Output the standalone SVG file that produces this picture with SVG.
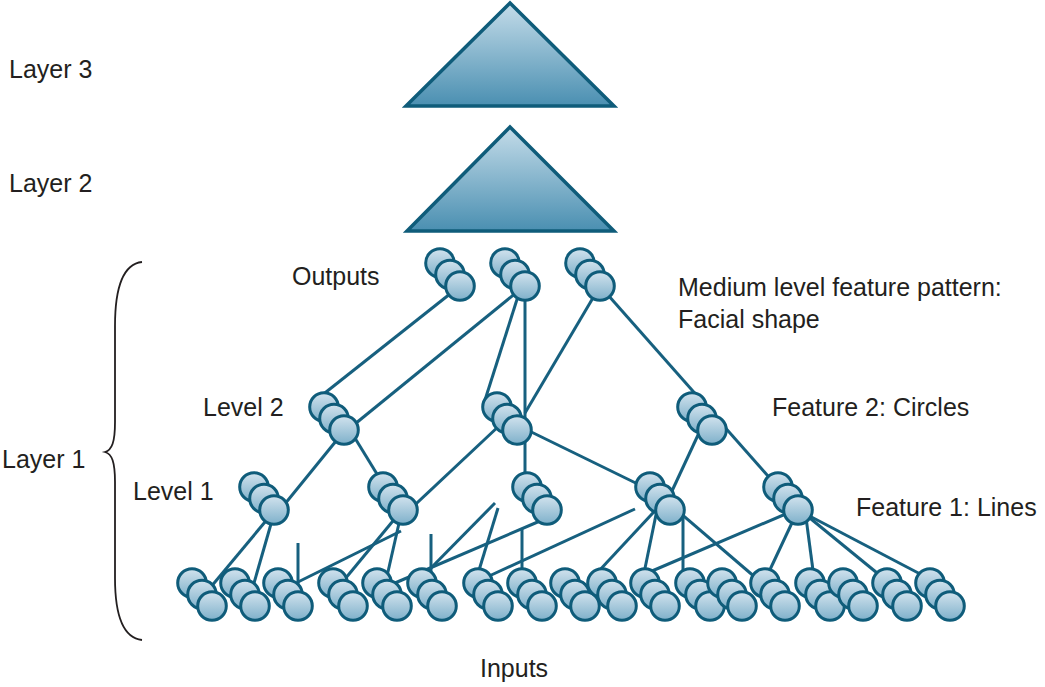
<svg xmlns="http://www.w3.org/2000/svg" xmlns:xlink="http://www.w3.org/1999/xlink" width="1045" height="687" viewBox="0 0 1045 687">
<style>
.t{font-family:"Liberation Sans",Arial,sans-serif;font-size:25px;fill:#231f20}
.c{stroke:#0f5c7a;stroke-width:3;fill:url(#cg)}
.tri{stroke:#0f5c7a;stroke-width:3.5;fill:url(#tg);stroke-linejoin:miter}
#connectors line{stroke:#17607f;stroke-width:3;fill:none;stroke-linecap:butt}
</style>
<defs>
<linearGradient id="cg" x1="0" y1="0" x2="0" y2="1">
<stop offset="0" stop-color="#d2e3ee"/>
<stop offset="1" stop-color="#7eb0ca"/>
</linearGradient>
<linearGradient id="tg" x1="0" y1="0" x2="0" y2="1">
<stop offset="0" stop-color="#c4dce9"/>
<stop offset="1" stop-color="#4a8fb1"/>
</linearGradient>
<g id="n3">
<circle class="c" cx="0" cy="0" r="14.3"/>
<circle class="c" cx="10" cy="11.5" r="14.3"/>
<circle class="c" cx="20" cy="23" r="14.3"/>
</g>
</defs>
<rect width="1045" height="687" fill="#ffffff"/>

<g id="layer3"><polygon class="tri" points="510,3 406,106 614,106"/></g>
<g id="layer2"><polygon class="tri" points="510,127 407,231 614,231"/></g>

<g id="brace"><path d="M142,262 C124,264 115,286 115,326 L115,422 C115,442 112,450 105,452 C112,454 115,462 115,482 L115,578 C115,618 124,638 142,640" fill="none" stroke="#231f20" stroke-width="1.8"/></g>

<g id="connectors">
<line x1="460" y1="286" x2="316" y2="400"/>
<line x1="522" y1="288" x2="350" y2="428"/>
<line x1="520" y1="290" x2="485" y2="400"/>
<line x1="525" y1="286" x2="525" y2="487"/>
<line x1="600" y1="286" x2="525" y2="413"/>
<line x1="600" y1="286" x2="798" y2="510"/>
<line x1="345" y1="430" x2="280" y2="510"/>
<line x1="350" y1="430" x2="388" y2="492"/>
<line x1="500" y1="425" x2="402" y2="517"/>
<line x1="517" y1="425" x2="650" y2="490"/>
<line x1="705" y1="420" x2="665" y2="506"/>
<line x1="275" y1="510" x2="210" y2="588"/>
<line x1="275" y1="510" x2="252" y2="590"/>
<line x1="298" y1="543" x2="298" y2="590"/>
<line x1="402" y1="510" x2="340" y2="585"/>
<line x1="402" y1="510" x2="385" y2="585"/>
<line x1="401" y1="531" x2="298" y2="582"/>
<line x1="431" y1="534" x2="431" y2="572"/>
<line x1="495" y1="503" x2="427" y2="572"/>
<line x1="498" y1="508" x2="476" y2="580"/>
<line x1="540" y1="521" x2="395" y2="583"/>
<line x1="522" y1="528" x2="522" y2="583"/>
<line x1="635" y1="509" x2="487" y2="577"/>
<line x1="665" y1="500" x2="597" y2="573"/>
<line x1="658" y1="505" x2="643" y2="578"/>
<line x1="683" y1="505" x2="683" y2="578"/>
<line x1="672" y1="506" x2="756" y2="578"/>
<line x1="795" y1="510" x2="645" y2="574"/>
<line x1="798" y1="510" x2="767" y2="576"/>
<line x1="805" y1="510" x2="814" y2="578"/>
<line x1="800" y1="510" x2="882" y2="577"/>
<line x1="800" y1="511" x2="924" y2="576"/>
</g>

<g id="out1"><use xlink:href="#n3" x="440" y="263"/></g>
<g id="out2"><use xlink:href="#n3" x="505" y="263"/></g>
<g id="out3"><use xlink:href="#n3" x="580" y="263"/></g>
<g id="l2a"><use xlink:href="#n3" x="324" y="407"/></g>
<g id="l2b"><use xlink:href="#n3" x="497" y="407"/></g>
<g id="l2c"><use xlink:href="#n3" x="692" y="407"/></g>
<g id="l1a"><use xlink:href="#n3" x="254" y="487"/></g>
<g id="l1b"><use xlink:href="#n3" x="383" y="487"/></g>
<g id="l1c"><use xlink:href="#n3" x="527" y="487"/></g>
<g id="l1d"><use xlink:href="#n3" x="650" y="487"/></g>
<g id="l1e"><use xlink:href="#n3" x="778" y="487"/></g>
<g id="in01"><use xlink:href="#n3" x="192" y="583"/></g>
<g id="in02"><use xlink:href="#n3" x="235" y="583"/></g>
<g id="in03"><use xlink:href="#n3" x="278" y="583"/></g>
<g id="in04"><use xlink:href="#n3" x="333" y="583"/></g>
<g id="in05"><use xlink:href="#n3" x="377" y="583"/></g>
<g id="in06"><use xlink:href="#n3" x="422" y="583"/></g>
<g id="in07"><use xlink:href="#n3" x="478" y="583"/></g>
<g id="in08"><use xlink:href="#n3" x="522" y="583"/></g>
<g id="in09"><use xlink:href="#n3" x="565" y="583"/></g>
<g id="in10"><use xlink:href="#n3" x="602" y="583"/></g>
<g id="in11"><use xlink:href="#n3" x="645" y="583"/></g>
<g id="in12"><use xlink:href="#n3" x="690" y="583"/></g>
<g id="in13"><use xlink:href="#n3" x="722" y="583"/></g>
<g id="in14"><use xlink:href="#n3" x="765" y="583"/></g>
<g id="in15"><use xlink:href="#n3" x="810" y="583"/></g>
<g id="in16"><use xlink:href="#n3" x="843" y="583"/></g>
<g id="in17"><use xlink:href="#n3" x="887" y="583"/></g>
<g id="in18"><use xlink:href="#n3" x="930" y="583"/></g>

<g id="labels">
<text class="t" x="9" y="78">Layer 3</text>
<text class="t" x="9" y="192">Layer 2</text>
<text class="t" x="2" y="468">Layer 1</text>
<text class="t" x="292" y="285">Outputs</text>
<text class="t" x="678" y="296">Medium level feature pattern:</text>
<text class="t" x="678" y="328">Facial shape</text>
<text class="t" x="203" y="416">Level 2</text>
<text class="t" x="772" y="416">Feature 2: Circles</text>
<text class="t" x="133" y="500">Level 1</text>
<text class="t" x="856" y="516">Feature 1: Lines</text>
<text class="t" x="480" y="677">Inputs</text>
</g>
</svg>
